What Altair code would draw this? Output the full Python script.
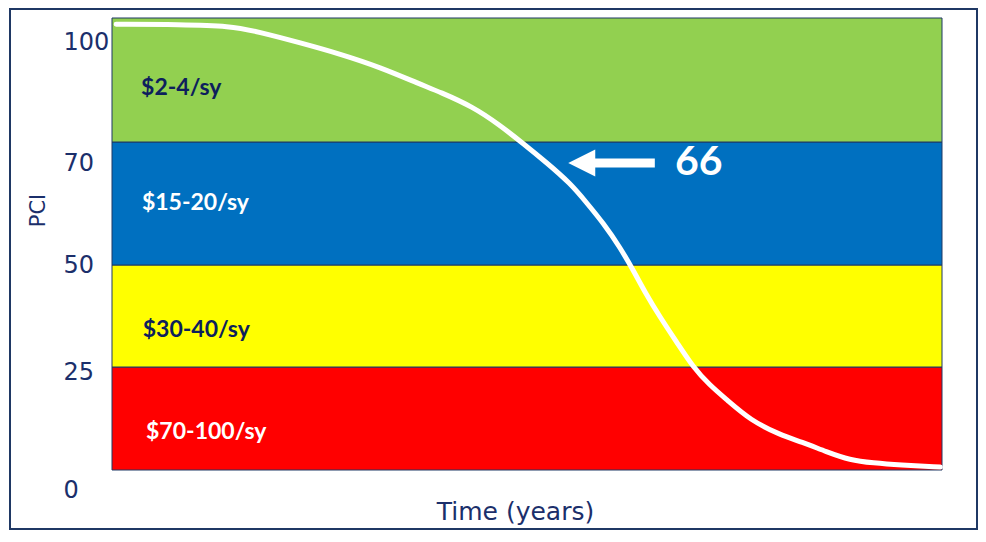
import altair as alt
import pandas as pd

# Bands of PCI (condition index) and their repair cost
band_lo = [0, 25, 50, 70]
band_hi = [25, 50, 70, 100]
band_color = ["#FF0000", "#FFFF00", "#0070C0", "#92D050"]
band_label = ["$70-100/sy", "$30-40/sy", "$15-20/sy", "$2-4/sy"]
label_color = ["#FFFFFF", "#0D1F5C", "#FFFFFF", "#0D1F5C"]
label_pci = [9.2, 34.1, 60.1, 83.1]
label_time = [4.1, 3.7, 3.6, 3.5]

# Deterioration curve (time as % of the horizon, PCI)
time = [0.5, 8.2, 14.2, 17.8, 22.7, 27.5, 32.3, 37.1, 39.5, 43.5, 46.7, 49.5,
        52.4, 55.2, 57.2, 59.2, 61.2, 63.0, 64.2, 66.0, 68.1, 70.0, 72.0, 74.1,
        76.9, 80.5, 83.1, 86.1, 88.9, 91.7, 94.9, 99.8]
pci = [98.5, 98.4, 98.1, 96.6, 94.0, 91.3, 88.1, 84.0, 82.1, 78.5, 74.1, 69.8,
       66.6, 63.3, 60.1, 56.8, 52.9, 48.0, 43.4, 37.3, 30.9, 25.0, 20.6, 17.0,
       12.1, 8.5, 6.8, 4.4, 2.4, 1.7, 1.2, 0.7]

# Annotation arrow pointing at PCI 66
arrow_pci = [66.6]
arrow_head_time = [56.6]
arrow_tail_time = [65.4]
arrow_shaft_start = [57.8]
arrow_text = ["66"]
arrow_text_time = [70.7]

tick_values = [0, 25, 50, 70, 100]

NAVY = "#1B2F6B"
W, H = 830, 452

yscale = alt.Scale(domain=[0, 25, 50, 70, 100], range=[452, 349, 247, 124, 0],
                   zero=False, nice=False)
xscale = alt.Scale(domain=[0, 100], zero=False, nice=False)

bands = pd.DataFrame({"lo": band_lo, "hi": band_hi, "color": band_color})
labels = pd.DataFrame({"t": label_time, "p": label_pci, "text": band_label,
                       "color": label_color})
curve = pd.DataFrame({"t": time, "p": pci})
arrow = pd.DataFrame({"head": arrow_head_time, "tail": arrow_tail_time,
                      "start": arrow_shaft_start, "p": arrow_pci,
                      "text": arrow_text, "tt": arrow_text_time})

yaxis = alt.Axis(
    values=tick_values, title="PCI", grid=False, ticks=False, tickSize=0, domain=False,
    labelFont="DejaVu Sans", labelFontSize=24, labelColor=NAVY, labelAlign="left",
    labelPadding=49, labelFlush=False, labelOverlap=False,
    labelOffset={"condition": [
        {"test": "datum.value == 100", "value": 24},
        {"test": "datum.value == 70", "value": 21},
        {"test": "datum.value == 25", "value": 5},
        {"test": "datum.value == 0", "value": 20}], "value": 0},
    titleFont="DejaVu Sans", titleFontSize=21, titleFontWeight="normal", titleColor=NAVY,
    titleAngle=270, titleX=-74, titleY=192, titleAlign="center", titleBaseline="middle",
)
xaxis = alt.Axis(
    labels=False, ticks=False, domain=False, grid=False, title="Time (years)",
    titleFont="DejaVu Sans", titleFontSize=25, titleFontWeight="normal", titleColor=NAVY,
    titleX=403, titleY=41, titleAlign="center", titleBaseline="middle",
)

band_layer = alt.Chart(bands).mark_rect(stroke="#1F3864", strokeWidth=1).encode(
    x=alt.value(0), x2=alt.value(W),
    y=alt.Y("lo:Q", scale=yscale, axis=yaxis), y2="hi:Q",
    fill=alt.Fill("color:N", scale=None),
)

text_layer = alt.Chart(labels).mark_text(
    font="Lato", fontWeight="bold", fontSize=23, align="left", baseline="middle"
).encode(
    x=alt.X("t:Q", scale=xscale, axis=xaxis),
    y=alt.Y("p:Q", scale=yscale),
    text="text:N",
    color=alt.Color("color:N", scale=None),
)

line_layer = alt.Chart(curve).mark_line(
    color="white", strokeWidth=5, interpolate="basis", strokeCap="round"
).encode(
    x=alt.X("t:Q", scale=xscale),
    y=alt.Y("p:Q", scale=yscale),
)

shaft = alt.Chart(arrow).mark_rule(color="white", strokeWidth=9).encode(
    x=alt.X("start:Q", scale=xscale), x2="tail:Q",
    y=alt.Y("p:Q", scale=yscale),
)
head = alt.Chart(arrow).mark_point(
    shape="M -1 0 L 1 -1 L 1 1 Z", filled=True, color="white", opacity=1,
    size=729, strokeWidth=0
).encode(
    x=alt.X("head:Q", scale=xscale),
    y=alt.Y("p:Q", scale=yscale),
)
arrow_label = alt.Chart(arrow).mark_text(
    font="Lato", fontWeight="bold", fontSize=41, color="white",
    align="center", baseline="middle"
).encode(
    x=alt.X("tt:Q", scale=xscale),
    y=alt.Y("p:Q", scale=yscale),
    text="text:N",
)

frame = alt.Chart(alt.Data(values=[{"a": 1}])).mark_rect(
    fill=None, stroke="#1F3864", strokeWidth=2
).encode(
    x=alt.value(-102), x2=alt.value(865), y=alt.value(-9), y2=alt.value(511),
)

chart = alt.layer(
    band_layer, text_layer, line_layer, shaft, head, arrow_label, frame
).properties(
    width=W, height=H,
    autosize=alt.AutoSizeParams(type="none"),
    padding={"left": 104, "top": 10, "right": 36, "bottom": 60},
    background="white",
).configure_view(stroke=None)

chart.save("out.html", embed_options={"renderer": "svg", "actions": False})
